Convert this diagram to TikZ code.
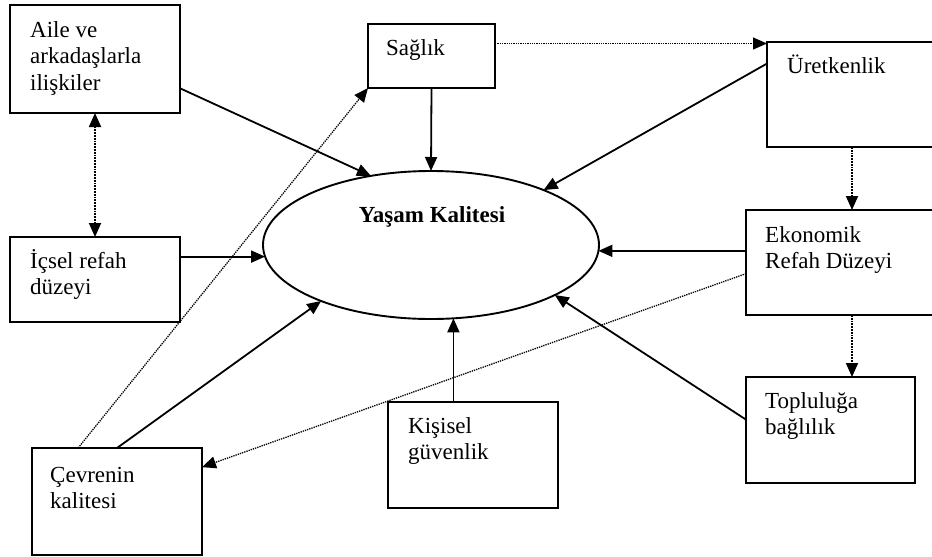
\documentclass[tikz,border=0pt]{standalone}
\usepackage{fontspec}
\setmainfont{Liberation Serif}
\usetikzlibrary{arrows.meta,shapes.geometric}
\begin{document}
\begin{tikzpicture}[x=1pt,y=-1pt,
 box/.style={draw,line width=2.2pt,inner sep=0pt,outer sep=0pt,rectangle},
 txt/.style={anchor=north west,align=left,inner sep=0pt,font=\fontsize{23}{26.5}\selectfont},
 arr/.style={line width=1.8pt,-{Triangle[length=14pt,width=12pt]}},
 dotarr/.style={line width=1.8pt,densely dotted,-{Triangle[length=14pt,width=12pt]}},
 thindot/.style={line width=1.3pt,densely dotted,-{Triangle[length=14pt,width=12pt]}},
 ]
\useasboundingbox (0,0) rectangle (932,557);
% boxes
\node[box,minimum width=170pt,minimum height=108pt] (aile) at (95,59) {};
\node[box,minimum width=127pt,minimum height=64pt] (saglik) at (431.5,56) {};
\node[box,minimum width=170pt,minimum height=105pt] (uret) at (852,94.5) {};
\node[box,minimum width=212pt,minimum height=105pt] (eko) at (852,262.5) {};
\node[box,minimum width=169pt,minimum height=106pt] (top) at (830.5,430) {};
\node[box,minimum width=170pt,minimum height=85pt] (ic) at (95,279.5) {};
\node[box,minimum width=170pt,minimum height=107pt] (cev) at (117,501.5) {};
\node[box,minimum width=170pt,minimum height=106pt] (kis) at (473,455) {};
% ellipse
\node[draw,ellipse,line width=1.9pt,inner sep=0pt,outer sep=0pt,minimum width=336pt,minimum height=148pt] (yk) at (431,245) {};
\node[inner sep=0pt,anchor=base,font=\bfseries\fontsize{23}{26}\selectfont] (ykt) at (432,222) {Yaşam Kalitesi};
% texts
\node[txt] (t1) at ([xshift=20pt,yshift=-11pt]aile.north west) {\rule{0pt}{21pt}Aile ve\\arkadaşlarla\\ilişkiler};
\node[txt] (t2) at ([xshift=18pt,yshift=-10pt]saglik.north west) {\rule{0pt}{21pt}Sağlık};
\node[txt] (t3) at ([xshift=20pt,yshift=-10pt]uret.north west) {\rule{0pt}{21pt}Üretkenlik};
\node[txt] (t4) at ([xshift=19pt,yshift=-11pt]eko.north west) {\rule{0pt}{21pt}Ekonomik\\Refah Düzeyi};
\node[txt] (t5) at ([xshift=19pt,yshift=-10pt]top.north west) {\rule{0pt}{21pt}Topluluğa\\bağlılık};
\node[txt] (t6) at ([xshift=20pt,yshift=-10pt]ic.north west) {\rule{0pt}{21pt}İçsel refah\\düzeyi};
\node[txt] (t7) at ([xshift=18pt,yshift=-13pt]cev.north west) {\rule{0pt}{21pt}Çevrenin\\kalitesi};
\node[txt] (t8) at ([xshift=20pt,yshift=-10pt]kis.north west) {\rule{0pt}{21pt}Kişisel\\güvenlik};
% solid arrows
\draw[arr] (aile.-19.4) -- (yk.131);
\draw[arr] (saglik.south) -- (yk.north);
\draw[arr] (uret.160.5) -- (yk.26.4);
\draw[arr] (eko.west |- yk.-2.7) -- (yk.-2.7);
\draw[arr] (top.173.2) -- (yk.-22.1);
\draw[arr] (kis.north -| yk.-73.3) -- (yk.-73.3);
\draw[arr] (cev.north) -- (yk.207.4);
\draw[arr] (ic.east |- yk.184.1) -- (yk.184.1);
% dotted arrows
\draw[dotarr,{Triangle[length=14pt,width=12pt]}-{Triangle[length=14pt,width=12pt]}] (aile.south) -- (ic.north);
\coordinate (ut) at ([yshift=-1.5pt]uret.north west);
\draw[thindot] (saglik.east |- ut) -- (ut);
\draw[dotarr] (uret.south) -- (eko.north);
\draw[dotarr] (eko.south) -- (eko.south |- top.north);
\draw[thindot] (cev.126.8) -- (saglik.south west);
\draw[thindot] (eko.186.2) -- (cev.22.1);
\end{tikzpicture}
\end{document}
